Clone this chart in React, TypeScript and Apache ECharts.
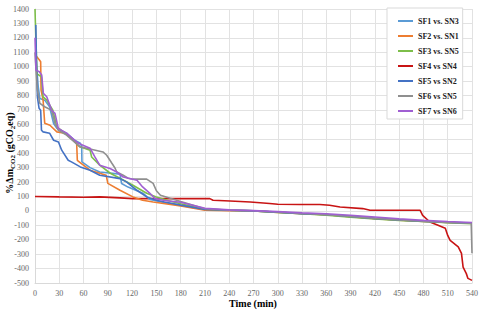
import React, { useEffect, useRef } from "react";
import * as echarts from "echarts";

const seriesNames = ["SF1 vs. SN3", "SF2 vs. SN1", "SF3 vs. SN5", "SF4 vs SN4", "SF5 vs SN2", "SF6 vs SN5", "SF7 vs SN6"];
const colors = ["#5B9BD5", "#ED7D31", "#7DBE4A", "#C81414", "#4472C4", "#8F8F8F", "#A05FD2"];
const xTitle = "Time (min)";
const yTitle = "{n|%Δm}{s|CO2}{n| (gCO}{s|2}{n|eq)}";

const sf1: number[][] = [[1, 1093], [2, 1000], [4, 860], [6, 780], [12, 768], [18, 722], [23, 606], [27, 572], [39, 539], [49, 490], [56, 469], [57.7, 444], [58, 340], [68, 300], [80, 270], [105, 255], [107, 190], [115, 165], [134, 120], [142, 80], [155, 64], [180, 38], [210, 8], [240, 3], [270, 0], [300, -9], [330, -18], [360, -26], [390, -40], [420, -53], [450, -63], [480, -73], [510, -80], [540, -86]];
const sf2: number[][] = [[2, 1070], [5, 1050], [7, 1034], [7.5, 837], [10, 768], [12, 608], [18.5, 594], [27, 548], [37, 539], [43, 513], [51.5, 469], [52.3, 351], [57, 330], [68, 282], [88, 247], [90, 191], [105, 143], [121, 97], [133, 74], [146, 62], [180, 35], [210, 5], [240, 2], [270, -1], [300, -10], [330, -19], [360, -27], [390, -40], [420, -54], [450, -64], [480, -73], [510, -80], [540, -86]];
const sf3: number[][] = [[0, 1400], [1, 1200], [2.5, 950], [8, 930], [10, 791], [14.5, 768], [22, 698], [27, 583], [35, 548], [47, 490], [55.6, 444], [68, 421], [70, 374], [80, 317], [93, 261], [105, 226], [121, 178], [138, 122], [150, 97], [165, 70], [180, 50], [210, 12], [240, 5], [270, 0], [300, -10], [330, -20], [360, -30], [390, -43], [420, -56], [450, -66], [480, -74], [510, -81], [540, -88]];
const sf4: number[][] = [[0, 100], [30, 97], [60, 95], [80, 97], [105, 90], [121, 85], [142, 85], [216, 85], [220, 74], [241, 69], [266, 62], [290, 51], [300, 46], [327, 44], [352, 44], [364, 39], [377, 27], [405, 16], [414, 4], [476, 4], [479, -31], [488, -77], [498, -100], [507, -121], [510, -170], [513, -204], [523, -250], [527, -295], [529, -390], [533, -435], [535, -468], [540, -482]];
const sf5: number[][] = [[1, 1290], [2, 976], [3, 789], [5, 712], [7, 698], [8, 559], [10, 548], [18, 539], [23, 490], [29, 478], [33, 421], [41, 351], [45, 340], [56, 305], [68, 282], [80, 247], [105, 224], [113, 201], [126, 143], [138, 97], [150, 74], [160, 62], [180, 40], [210, 10], [240, 4], [270, 0], [300, -9], [330, -19], [360, -25], [390, -38], [420, -52], [450, -62], [480, -72], [510, -79], [540, -85]];
const sf6: number[][] = [[0, 1100], [1, 1000], [3, 837], [6, 746], [12, 722], [20.5, 698], [24.7, 606], [28.8, 559], [39, 525], [55.6, 444], [64, 435], [84, 409], [88.6, 386], [95, 330], [99, 296], [101, 270], [109, 247], [115, 226], [121, 220], [138, 220], [146, 191], [150, 140], [155, 108], [167, 87], [180, 65], [210, 15], [240, 5], [270, 1], [300, -8], [330, -18], [360, -26], [390, -39], [420, -52], [450, -63], [480, -72], [510, -80], [539, -86], [540, -294]];
const sf7: number[][] = [[0, 1200], [1.2, 976], [5.3, 965], [8.3, 942], [10.3, 816], [14.5, 791], [20.6, 698], [24.7, 676], [28.8, 572], [39, 539], [53.5, 469], [68, 435], [74, 374], [80, 317], [92.7, 294], [101, 270], [109, 235], [126, 212], [133, 166], [142, 122], [148, 87], [160, 72], [180, 60], [210, 18], [240, 7], [270, 2], [300, -5], [330, -14], [360, -20], [390, -30], [420, -42], [450, -55], [480, -66], [510, -74], [540, -80]];

const seriesData = [sf1, sf2, sf3, sf4, sf5, sf6, sf7];

export default function App() {
  const ref = useRef<HTMLDivElement>(null);
  useEffect(() => {
    if (!ref.current) return;
    const chart = echarts.init(ref.current, null, { renderer: "svg" });
    const font = "Liberation Serif";
    chart.setOption({
      animation: false,
      backgroundColor: "#ffffff",
      grid: { left: 35, right: 8, top: 9, bottom: 27, containLabel: false, outerBoundsMode: "none" },
      graphic: [
        {
          type: "text",
          x: 253,
          y: 303,
          style: { text: xTitle, fontFamily: font, fontSize: 10, fontWeight: "bold", fill: "#000", align: "center", verticalAlign: "middle" },
        },
        {
          type: "text",
          x: 9,
          y: 153,
          rotation: Math.PI / 2,
          style: {
            text: yTitle,
            fontFamily: font,
            fontSize: 10,
            fontWeight: "bold",
            fill: "#000",
            align: "center",
            verticalAlign: "middle",
            rich: {
              n: { fontFamily: font, fontSize: 10, fontWeight: "bold", fill: "#000", lineHeight: 14, verticalAlign: "middle" },
              s: { fontFamily: font, fontSize: 7, fontWeight: "bold", fill: "#000", lineHeight: 14, verticalAlign: "bottom" },
            },
          },
        },
      ],
      legend: {
        orient: "vertical",
        left: 387,
        top: 8,
        padding: [8, 4, 3, 11],
        itemGap: 5,
        itemWidth: 15,
        itemHeight: 2,
        icon: "rect",
        backgroundColor: "#ffffff",
        borderColor: "#d9d9d9",
        borderWidth: 1,
        textStyle: { fontFamily: font, fontSize: 8, fontWeight: "bold", color: "#222", lineHeight: 10 },
        data: seriesNames,
      },
      xAxis: {
        type: "value",
        min: 0,
        max: 540,
        interval: 30,
        axisLine: { show: true, onZero: false, lineStyle: { color: "#d9d9d9" } },
        axisTick: { show: false },
        axisLabel: { fontFamily: font, fontSize: 8, color: "#666", margin: 6, formatter: (v: number) => String(v) },
        splitLine: { show: true, lineStyle: { color: "#e2e2e2", width: 1 } },
      },
      yAxis: {
        type: "value",
        min: -500,
        max: 1400,
        interval: 100,
        axisLine: { show: true, lineStyle: { color: "#d9d9d9" } },
        axisTick: { show: false },
        axisLabel: { fontFamily: font, fontSize: 8, color: "#666", margin: 6, formatter: (v: number) => String(v) },
        splitLine: { show: true, lineStyle: { color: "#e2e2e2", width: 1 } },
      },
      series: seriesData.map((d, i) => ({
        name: seriesNames[i],
        type: "line",
        data: d,
        symbol: "none",
        smooth: false,
        z: i === 3 ? 1 : 2,
        lineStyle: { color: colors[i], width: 1.6 },
        itemStyle: { color: colors[i] },
      })),
    });
    return () => chart.dispose();
  }, []);
  return <div ref={ref} style={{ width: 480, height: 310, position: "fixed", left: 0, top: 0 }} />;
}
